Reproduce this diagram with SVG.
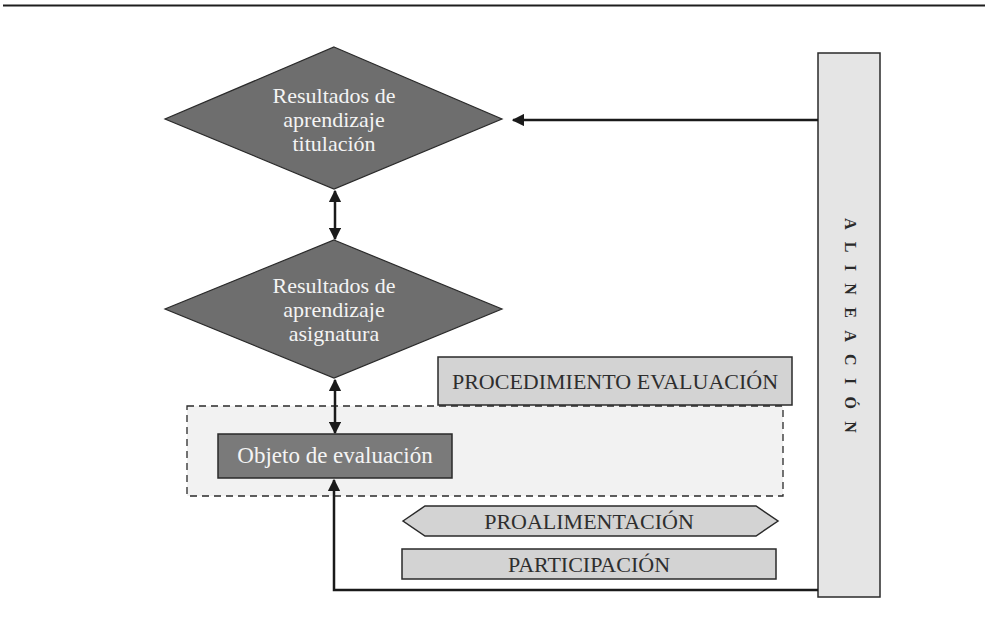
<svg xmlns="http://www.w3.org/2000/svg" width="985" height="636" viewBox="0 0 985 636">
<defs>
<style>
.dia{fill:#6e6e6e;stroke:#2a2a2a;stroke-width:1.2}
.wt{font-family:"Liberation Serif",serif;font-size:22px;fill:#f4f4f4;text-anchor:middle}
.dt{font-family:"Liberation Serif",serif;font-size:22px;fill:#2e2e2e;text-anchor:middle}
.lbox{fill:#d3d3d3;stroke:#2a2a2a;stroke-width:1.5}
.ln{fill:none;stroke:#1a1a1a;stroke-width:2.5}
</style>
<marker id="ah" viewBox="0 0 10 10" refX="9" refY="5" markerWidth="5" markerHeight="5" orient="auto-start-reverse" markerUnits="strokeWidth">
<path d="M0,0 L10,5 L0,10 z" fill="#1a1a1a"/>
</marker>
</defs>
<rect x="0" y="0" width="985" height="636" fill="#ffffff"/>
<line x1="3" y1="5.5" x2="985" y2="5.5" stroke="#1e1e1e" stroke-width="2"/>

<g id="grupo-evaluacion">
<rect x="187" y="406" width="596" height="90" fill="#f2f2f2" stroke="#2a2a2a" stroke-width="1.3" stroke-dasharray="7,5"/>
</g>

<g id="alineacion">
<rect x="818" y="53" width="62" height="544" fill="#e5e5e5" stroke="#2a2a2a" stroke-width="1.5"/>
<text x="849" y="218" transform="rotate(90 849 218)" font-family="Liberation Serif,serif" font-size="16" font-weight="bold" fill="#2a2a2a" letter-spacing="12.3" dominant-baseline="middle">ALINEACIÓN</text>
</g>

<g id="connectors">
<line class="ln" x1="818" y1="120" x2="513" y2="120" marker-end="url(#ah)"/>
<line class="ln" x1="335" y1="191" x2="335" y2="239" marker-start="url(#ah)" marker-end="url(#ah)"/>
<line class="ln" x1="335" y1="380" x2="335" y2="433" marker-start="url(#ah)" marker-end="url(#ah)"/>
<polyline class="ln" points="818,590 334,590 334,480" marker-end="url(#ah)"/>
</g>

<g id="rda-titulacion">
<polygon class="dia" points="334,47 502,119 334,189 165,119"/>
<text class="wt" x="334" y="103">Resultados de</text>
<text class="wt" x="334" y="127">aprendizaje</text>
<text class="wt" x="334" y="151">titulación</text>
</g>

<g id="rda-asignatura">
<polygon class="dia" points="334,240 502,309 334,378 165,309"/>
<text class="wt" x="334" y="293">Resultados de</text>
<text class="wt" x="334" y="317">aprendizaje</text>
<text class="wt" x="334" y="341">asignatura</text>
</g>

<g id="procedimiento">
<rect class="lbox" x="438" y="357" width="354" height="48"/>
<text class="dt" x="615" y="389">PROCEDIMIENTO EVALUACIÓN</text>
</g>

<g id="objeto">
<rect x="218" y="434" width="234" height="44" fill="#7a7a7a" stroke="#2a2a2a" stroke-width="1.5"/>
<text class="wt" x="335" y="463" style="font-size:23px">Objeto de evaluación</text>
</g>

<g id="proalimentacion">
<polygon class="lbox" points="403,521 425,506 756,506 778,521 756,536 425,536"/>
<text class="dt" x="589" y="529">PROALIMENTACIÓN</text>
</g>

<g id="participacion">
<rect class="lbox" x="402" y="549" width="374" height="30"/>
<text class="dt" x="589" y="572">PARTICIPACIÓN</text>
</g>
</svg>
